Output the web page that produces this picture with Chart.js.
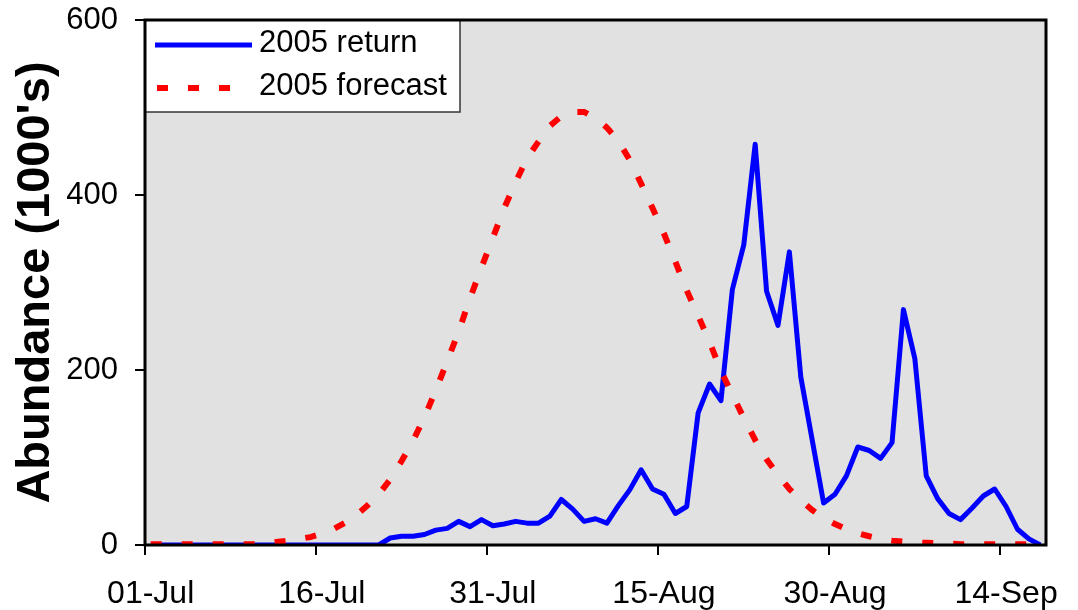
<!DOCTYPE html>
<html>
<head>
<meta charset="utf-8">
<script src="https://cdn.jsdelivr.net/npm/chart.js@4.4.1/dist/chart.umd.min.js"></script>
<style>
  html, body { margin: 0; padding: 0; background: #fff; }
  #wrap { position: relative; width: 1078px; height: 610px; }
</style>
</head>
<body>
<div id="wrap"><canvas id="c"></canvas></div>
<script>
const categories = [
  '01-Jul','02-Jul','03-Jul','04-Jul','05-Jul','06-Jul','07-Jul','08-Jul','09-Jul','10-Jul',
  '11-Jul','12-Jul','13-Jul','14-Jul','15-Jul','16-Jul','17-Jul','18-Jul','19-Jul','20-Jul',
  '21-Jul','22-Jul','23-Jul','24-Jul','25-Jul','26-Jul','27-Jul','28-Jul','29-Jul','30-Jul','31-Jul',
  '01-Aug','02-Aug','03-Aug','04-Aug','05-Aug','06-Aug','07-Aug','08-Aug','09-Aug','10-Aug',
  '11-Aug','12-Aug','13-Aug','14-Aug','15-Aug','16-Aug','17-Aug','18-Aug','19-Aug','20-Aug',
  '21-Aug','22-Aug','23-Aug','24-Aug','25-Aug','26-Aug','27-Aug','28-Aug','29-Aug','30-Aug','31-Aug',
  '01-Sep','02-Sep','03-Sep','04-Sep','05-Sep','06-Sep','07-Sep','08-Sep','09-Sep','10-Sep',
  '11-Sep','12-Sep','13-Sep','14-Sep','15-Sep','16-Sep','17-Sep'
];
const tickLabels = ['01-Jul','16-Jul','31-Jul','15-Aug','30-Aug','14-Sep'];
const yTicks = [0, 200, 400, 600];

const returnValues = [
  0,0,0,0,0,0,0,0,0,0,
  0,0,0,0,0,0,0,0,0,0,
  0,8,10,10,12,17,19,27,21,29,
  22,24,27,25,25,33,52,41,27,30,
  25,45,63,86,64,58,36,44,151,184,
  165,292,343,458,290,251,335,192,120,48,
  58,79,112,108,99,117,269,213,79,53,
  36,29,42,56,64,44,18,7,0
];
const forecastValues = [
  1,1,1,1,1,1,1,1,1,1,
  2,3.5,5,7,9,13,18,25,34,45,
  58,75,96,119,146,177,210,244,282,317,
  351,385,415,442,461,479,490,495,495,488,
  477,462,440,413,385,356,324,291,262,232,
  199,172,145,120,98,80,64,51,40,31,
  24,18,13.5,10,7,5,4,3,2.5,2,
  1.5,1,1,1,1,1,1,1,1
];

const FONT = "'Liberation Sans', Arial, sans-serif";

const framePlugin = {
  id: 'frame',
  beforeDraw(chart) {
    const {ctx, chartArea: a, width, height} = chart;
    ctx.save();
    ctx.fillStyle = '#ffffff';
    ctx.fillRect(0, 0, width, height);
    ctx.fillStyle = '#e1e1e1';
    ctx.fillRect(a.left, a.top, a.right - a.left, a.bottom - a.top);
    ctx.restore();
  },
  afterDraw(chart) {
    const {ctx, chartArea: a} = chart;
    ctx.save();
    // legend box inside the plot area, top-left
    const x0 = a.left, y0 = a.top, w = 315, h = 92;
    ctx.fillStyle = '#ffffff';
    ctx.fillRect(x0, y0, w, h);
    ctx.strokeStyle = '#333333';
    ctx.lineWidth = 1.5;
    ctx.strokeRect(x0, y0, w, h);
    const rows = [25, 68];
    chart.data.datasets.forEach((ds, i) => {
      const yy = y0 + rows[i];
      const dashed = !!ds.borderDash;
      ctx.beginPath();
      ctx.strokeStyle = ds.borderColor;
      ctx.lineWidth = ds.borderWidth;
      ctx.lineCap = 'butt';
      ctx.setLineDash(ds.borderDash || []);
      ctx.lineDashOffset = 0;
      ctx.moveTo(x0 + (dashed ? 12 : 10), yy);
      ctx.lineTo(x0 + (dashed ? 86 : 107), yy);
      ctx.stroke();
      ctx.setLineDash([]);
      ctx.fillStyle = '#000';
      ctx.font = '31px ' + FONT;
      ctx.textAlign = 'left';
      ctx.textBaseline = 'alphabetic';
      ctx.fillText(ds.label, x0 + 114, yy + 7);
    });
    // plot frame
    ctx.strokeStyle = '#000';
    ctx.lineWidth = 3;
    ctx.strokeRect(a.left, a.top, a.right - a.left, a.bottom - a.top);
    ctx.restore();
  }
};

new Chart(document.getElementById('c'), {
  type: 'line',
  data: {
    labels: categories,
    datasets: [
      {
        label: '2005 return',
        data: returnValues,
        borderColor: '#0000ff',
        borderWidth: 5,
        pointRadius: 0,
        tension: 0,
        borderJoinStyle: 'round',
        fill: false,
        order: 1
      },
      {
        label: '2005 forecast',
        data: forecastValues,
        borderColor: '#ff0000',
        borderWidth: 6,
        borderDash: [11, 20],
        borderCapStyle: 'butt',
        pointRadius: 0,
        tension: 0,
        fill: false,
        order: 0
      }
    ]
  },
  options: {
    responsive: true,
    maintainAspectRatio: false,
    animation: false,
    layout: { padding: { top: 20, right: 32, bottom: 0, left: 0 } },
    plugins: {
      legend: { display: false },
      tooltip: { enabled: false }
    },
    scales: {
      x: {
        type: 'category',
        offset: true,
        border: { display: false },
        grid: {
          offset: true,
          drawOnChartArea: false,
          drawTicks: true,
          tickLength: 10,
          lineWidth: 2,
          color: (ctx) => (ctx.index !== undefined && ctx.index % 15 === 0) ? '#000' : 'rgba(0,0,0,0)'
        },
        ticks: {
          autoSkip: false,
          maxRotation: 0,
          minRotation: 0,
          padding: 20,
          color: '#000',
          font: { family: FONT, size: 32 },
          callback: function(value, index) {
            const lab = categories[index];
            return tickLabels.includes(lab) ? lab : '';
          }
        },
        afterFit(scale) { scale.height = 65; scale.paddingLeft = 0; scale.paddingRight = 0; }
      },
      y: {
        min: 0,
        max: 600,
        border: { display: false },
        afterBuildTicks(scale) { scale.ticks = yTicks.map(v => ({ value: v })); },
        grid: {
          drawOnChartArea: false,
          drawTicks: true,
          tickLength: 10,
          lineWidth: 2,
          color: '#000'
        },
        ticks: {
          padding: 17,
          color: '#000',
          font: { family: FONT, size: 31 }
        },
        title: {
          display: true,
          text: "Abundance (1000's)",
          color: '#000',
          font: { family: FONT, size: 47, weight: 'bold' },
          padding: { top: 8, bottom: 0 }
        },
        afterFit(scale) { scale.width = 145; scale.paddingTop = 0; scale.paddingBottom = 0; }
      }
    }
  },
  plugins: [framePlugin]
});
</script>
</body>
</html>
